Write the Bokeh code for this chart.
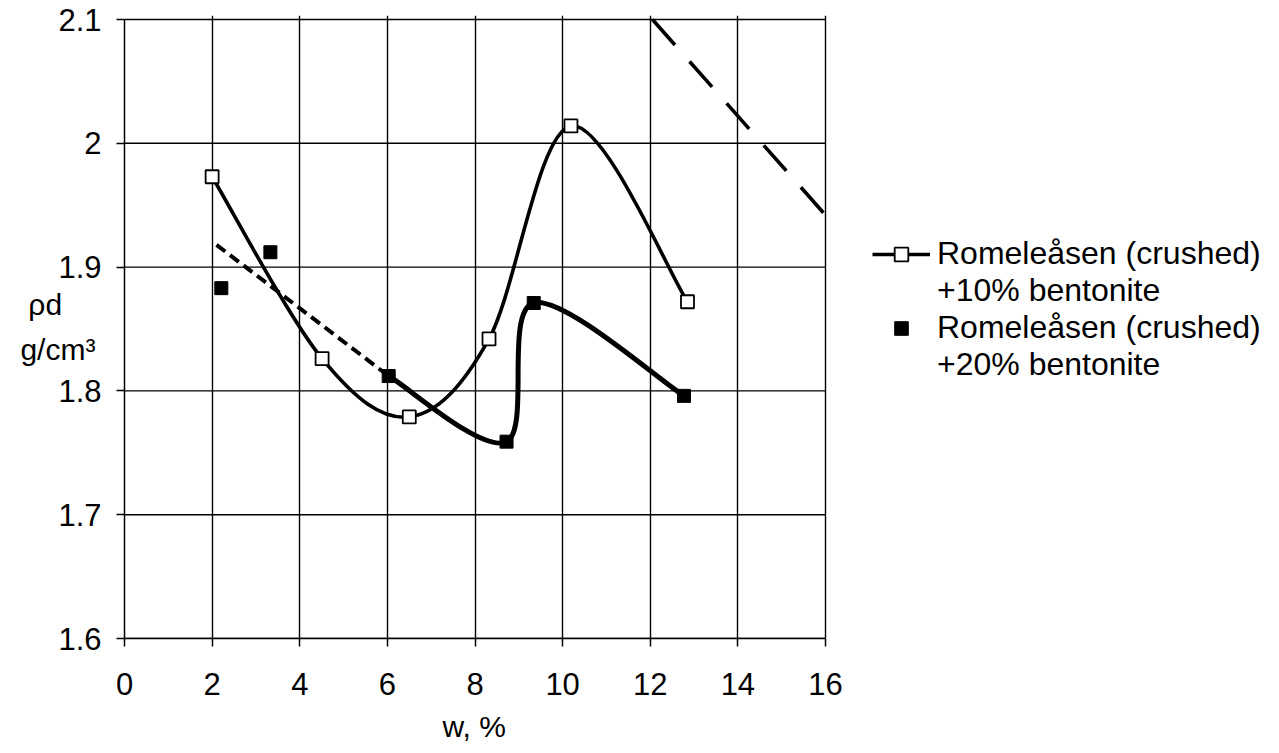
import numpy as np
from bokeh.plotting import figure
from bokeh.models import (Legend, LegendItem, FixedTicker, CustomJSTickFormatter, Range1d,
                          Title)
from bokeh.embed import file_html
from bokeh.resources import INLINE

# ---- data ----
w10 = [2.00, 4.51, 6.50, 8.32, 10.19, 12.85]
rho10 = [1.973, 1.826, 1.779, 1.842, 2.014, 1.872]

w20 = [2.21, 3.33, 6.03, 8.72, 9.34, 12.77]
rho20 = [1.883, 1.912, 1.812, 1.759, 1.871, 1.796]

trend_w = [2.10, 6.03]
trend_rho = [1.918, 1.812]

sat_w = [12.05, 16.0]
sat_rho = [2.10, 1.942]

x_ticks = [0, 2, 4, 6, 8, 10, 12, 14, 16]
y_ticks = [1.6, 1.7, 1.8, 1.9, 2.0, 2.1]

legend_lines = ["Romeleåsen (crushed)", "+10% bentonite",
                "Romeleåsen (crushed)", "+20% bentonite"]
x_title = "w, %"
y_title = "ρd\u00a0\u00a0\u00a0\u00a0\ng/cm³"

FONT = "Liberation Sans"


def bezier_segments(xs, ys):
    """Catmull-Rom style control points (Excel-like smoothing) for bezier glyphs."""
    P = np.column_stack([xs, ys]).astype(float)
    ext = np.vstack([P[0], P, P[-1]])
    segs = {k: [] for k in ("x0", "y0", "x1", "y1", "cx0", "cy0", "cx1", "cy1")}
    for i in range(len(P) - 1):
        pp, p0, p1, pn = ext[i], ext[i + 1], ext[i + 2], ext[i + 3]
        c0 = p0 + (p1 - pp) / 6.0
        c1 = p1 - (pn - p0) / 6.0
        segs["x0"].append(p0[0]); segs["y0"].append(p0[1])
        segs["x1"].append(p1[0]); segs["y1"].append(p1[1])
        segs["cx0"].append(c0[0]); segs["cy0"].append(c0[1])
        segs["cx1"].append(c1[0]); segs["cy1"].append(c1[1])
    return segs


# ---- layout (pixels) ----
W, H = 1279, 753
PLOT_L, PLOT_R, PLOT_T, PLOT_B = 124, 825, 19, 638   # the chart's plot area
TOP_PAD = 4                                            # room for the top border line
x_lo, x_hi = x_ticks[0], x_ticks[-1]
y_lo, y_hi = y_ticks[0], y_ticks[-1]
px_per_x = (PLOT_R - PLOT_L) / (x_hi - x_lo)
px_per_y = (PLOT_B - PLOT_T) / (y_hi - y_lo)
# the frame runs to the right edge so the legend can sit inside it
x_end = x_lo + (W - PLOT_L) / px_per_x
y_end = y_hi + TOP_PAD / px_per_y

p = figure(width=W, height=H, output_backend="svg", toolbar_location=None,
           x_range=Range1d(x_lo, x_end), y_range=Range1d(y_lo, y_end),
           min_border_left=PLOT_L, min_border_right=0,
           min_border_top=PLOT_T - TOP_PAD, min_border_bottom=H - PLOT_B)
p.background_fill_color = "white"
p.border_fill_color = "white"
p.outline_line_color = None

for ax in (p.xaxis[0], p.yaxis[0]):
    ax.axis_line_color = "black"
    ax.axis_line_width = 1.5
    ax.major_tick_line_color = "black"
    ax.major_tick_line_width = 1.5
    ax.major_tick_out = 8
    ax.major_tick_in = 0
    ax.minor_tick_line_color = None
    ax.major_label_text_font = FONT
    ax.major_label_text_font_size = "31px"
    ax.major_label_text_color = "black"
    ax.axis_label_text_font = FONT
    ax.axis_label_text_font_style = "normal"
    ax.axis_label_text_color = "black"

p.xaxis.ticker = FixedTicker(ticks=x_ticks)
p.xaxis.bounds = (x_lo, x_hi)
p.yaxis.ticker = FixedTicker(ticks=y_ticks)
p.yaxis.bounds = (y_lo, y_hi)
p.yaxis.formatter = CustomJSTickFormatter(code="return String(Number(tick.toFixed(1)));")
p.xaxis.major_label_standoff = 26
p.yaxis.major_label_standoff = 15

# y title: horizontal, left of the tick labels
p.yaxis.axis_label = y_title
p.yaxis.axis_label_orientation = "horizontal"
p.yaxis.axis_label_text_font_size = "30px"
p.yaxis.axis_label_text_line_height = 1.35
p.yaxis.axis_label_standoff = -40

# x title: centred under the plot area (not under the wider frame)
x_title_w = 65
p.add_layout(Title(text=x_title, align="left",
                   offset=(PLOT_L + PLOT_R) / 2 - x_title_w / 2 - PLOT_L,
                   standoff=21, text_font=FONT, text_font_size="30px",
                   text_font_style="normal", text_color="black"), "below")

# vertical grid lines (the one at x=16 is the right border)
p.xgrid.ticker = FixedTicker(ticks=x_ticks)
p.xgrid.grid_line_color = "black"
p.xgrid.grid_line_width = 1.4
# horizontal grid lines limited to the plot area (the one at 2.1 is the top border)
p.ygrid.visible = False
p.segment(x0=x_lo, x1=x_hi, y0=y_ticks, y1=y_ticks, line_color="black",
          line_width=1.4, level="underlay")

# curves (smoothed through the measured points)
s10 = bezier_segments(w10, rho10)
p.bezier(line_color="black", line_width=3.6, **s10)
s20 = bezier_segments(w20[2:], rho20[2:])
p.bezier(line_color="black", line_width=5, **s20)

p.line(trend_w, trend_rho, line_color="black", line_width=4, line_dash="11 6")
p.line(sat_w, sat_rho, line_color="black", line_width=3.6, line_dash="34 22")

# markers
r10 = p.scatter(w10, rho10, marker="square", size=13, fill_color="white",
                line_color="black", line_width=1.8)
r20 = p.scatter(w20, rho20, marker="square", size=13, fill_color="black",
                line_color="black", line_width=1)

# legend proxies (no visible data)
nan = [np.nan]
leg_line = p.line(x=nan, y=nan, line_color="black", line_width=3.6)
blank = p.scatter(x=nan, y=nan, size=0, fill_alpha=0, line_alpha=0)

legend = Legend(items=[LegendItem(label=legend_lines[0], renderers=[leg_line, r10]),
                       LegendItem(label=legend_lines[1], renderers=[blank]),
                       LegendItem(label=legend_lines[2], renderers=[r20]),
                       LegendItem(label=legend_lines[3], renderers=[blank])],
                location=(872 - PLOT_L, PLOT_B - 383), orientation="vertical",
                glyph_width=58, glyph_height=34, label_standoff=7,
                label_text_font=FONT, label_text_font_size="32px",
                label_text_color="black", spacing=0, padding=0, margin=0,
                border_line_alpha=0, background_fill_alpha=0)
p.add_layout(legend, "center")

open("out.html", "w").write(file_html(p, INLINE))
